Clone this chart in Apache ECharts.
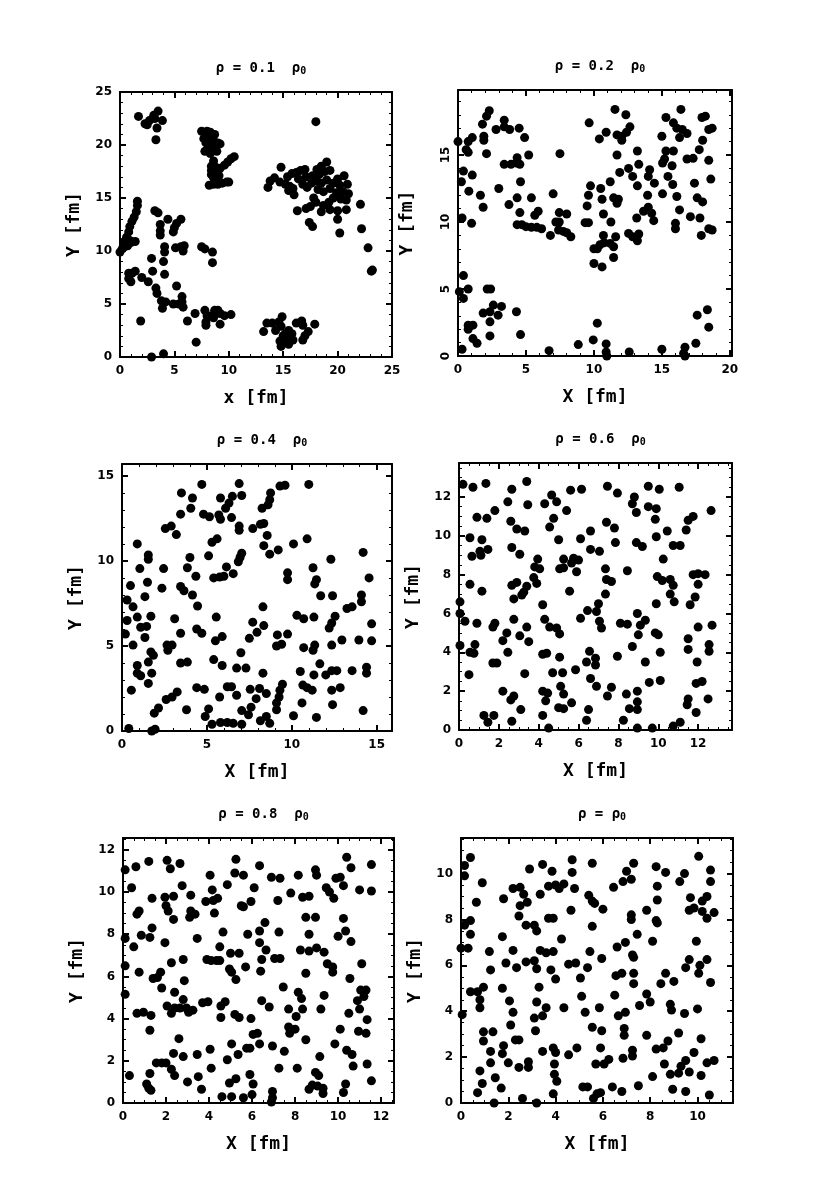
<!DOCTYPE html>
<html><head><meta charset="utf-8">
<style>html,body{margin:0;padding:0;background:#fff}#c{width:830px;height:1199px}</style>
<script src="https://cdn.jsdelivr.net/npm/echarts@6/dist/echarts.min.js"></script>
</head><body><div id="c"></div>
<script>
const points1=[[1.7,22.7],[2.3,22.0],[2.7,22.3],[3.1,22.8],[3.5,23.2],[3.9,22.3],[3.4,21.6],[3.3,20.5],[2.5,21.9],[3.2,22.5],
[7.5,21.3],[8.0,20.8],[8.3,21.2],[8.7,21.0],[7.9,20.2],[8.3,20.4],[8.7,20.3],[9.0,20.2],[9.2,20.1],[8.1,19.7],[8.5,19.6],[8.9,19.4],[7.8,19.4],[8.3,19.2],[8.7,19.9],[8.0,21.3],[8.4,20.8],[7.7,20.6],
[8.4,17.6],[8.8,17.9],[9.2,17.8],[9.6,18.1],[9.9,18.4],[10.2,18.7],[10.5,18.9],[8.6,18.5],[8.4,17.2],[8.6,16.9],[8.2,16.2],[8.6,16.3],[9.0,16.3],[9.4,16.4],[9.8,16.5],[10.0,16.5],[8.7,17.4],[9.1,17.1],[8.4,18.0],
[14.8,17.9],[13.6,16.0],[13.8,16.6],[14.2,16.9],[14.7,16.5],[15.2,16.3],[15.6,16.1],[15.9,15.9],[16.0,15.3],[15.5,15.7],[15.4,17.0],[15.8,17.3],[16.2,17.4],[16.6,17.6],[17.0,17.7],[16.4,16.8],[16.8,16.3],[17.2,16.0],[17.6,16.4],[17.1,17.0],[17.7,17.1],[18.1,17.7],[18.5,18.0],[19.0,18.4],[18.3,17.2],[18.8,17.5],[19.3,17.6],[18.0,16.6],[18.5,16.4],[19.0,16.7],[18.2,15.8],[18.7,15.6],[19.3,15.9],[19.6,16.4],[20.0,16.8],[20.6,17.1],[20.2,16.2],[20.9,16.3],[19.9,15.5],[20.5,15.6],[21.0,15.4],[20.3,14.9],[20.8,14.8],[19.6,15.0],[19.2,14.6],[18.7,14.3],[18.0,14.6],[17.5,14.2],[17.8,15.0],[16.3,13.8],[17.1,14.0],[18.5,13.7],[19.3,13.9],[20.0,13.8],[20.8,13.9],[20.0,13.0],[17.4,12.7],[17.7,12.3],[20.2,11.7],[22.1,14.4],[22.2,12.1],[22.8,10.3],[23.2,8.2],[23.1,8.1],[18.0,22.2],
[0,9.9],[0.2,10.2],[0.4,10.4],[0.7,10.5],[1.0,10.8],[1.4,10.9],[0.4,10.9],[0.6,11.3],[0.8,11.8],[0.9,12.3],[1.1,12.8],[1.3,13.2],[1.5,13.7],[1.6,14.3],[1.6,14.7],[0.9,11.0],
[3.2,13.8],[3.5,13.6],[4.4,13.0],[5.6,13.0],[5.2,12.6],[5.0,12.2],[4.9,11.8],[3.7,12.5],[3.7,11.9],[3.7,11.5],[4.1,10.4],[4.1,9.9],[5.1,10.3],[5.6,10.4],[5.9,10.5],[5.8,10.0],[4.0,9.0],[2.9,9.3],[3.0,8.1],[4.1,7.8],
[7.5,10.4],[7.8,10.2],[8.5,9.9],[8.5,8.9],[0.8,7.9],[1.1,7.9],[1.4,8.1],[0.8,7.4],[1.0,7.1],[2.0,7.5],[2.6,7.1],[3.3,6.5],[3.4,6.0],[3.8,5.3],[3.9,4.6],[4.2,5.2],[4.9,5.0],[5.2,6.7],[5.4,5.0],[5.7,5.7],[5.7,5.2],[5.8,4.7],[1.9,3.4],
[6.2,3.4],[6.9,4.1],[7.8,4.4],[8.0,3.9],[7.9,3.3],[7.9,3.0],[8.4,3.9],[8.7,4.4],[9.0,4.4],[9.2,4.1],[9.6,3.9],[10.2,4.0],[9.2,3.1],[8.6,3.7],[7.0,1.4],[2.9,0.0],[4.0,0.3],
[13.2,2.4],[13.5,3.2],[14.0,3.2],[14.3,2.5],[14.6,3.3],[14.9,3.8],[14.8,2.9],[15.5,2.5],[15.0,2.0],[14.7,1.5],[14.8,1.0],[15.1,1.4],[15.4,1.8],[15.8,2.2],[15.5,1.2],[16.2,3.2],[16.7,3.4],[16.8,3.0],[17.3,2.4],[17.0,2.0],[16.8,1.6],[17.9,3.1],[15.9,1.6],[15.2,2.2]];
const points2=[[2.3,18.3],[2.1,17.9],[1.8,17.3],[1.9,16.4],[1.9,16.1],[1.05,16.3],[.75,16],[0,16],[.6,15.4],[.75,15.2],[2.1,15.1],[2.8,16.9],[3.4,17.6],[3.4,17.1],[3.8,16.9],[4.5,17],[4.9,16.3],[5.2,15],[4.35,14.8],[4.3,14.4],[3.9,14.3],[3.4,14.3],[4.55,14.3],
[.4,13.8],[1.05,13.5],[.25,13],[.8,12.3],[1.65,12],[1.85,11.1],[3,12.5],[4.6,13],[4.35,11.8],[5.4,11.8],[3.75,11.3],[4.55,10.7],[.3,10.3],[1,9.9],[4.35,9.8],[4.7,9.8],[5,9.65],[5.4,9.6],[5.8,9.6],[6.15,9.5],[5.65,10.5],[5.9,10.8],
[7,12.1],[7.5,15.1],[7.45,10.7],[8,10.6],[7.2,10],[7.45,10],[6.8,9],[7.4,9.4],[7.75,9.3],[8,9.2],[8.3,8.9],[9.35,9.95],[9.6,9.95],[9.5,11.2],[9.6,12],[9.75,12.7],[9.65,17.4],[10.5,12.5],[10.6,11.7],[10.7,10.6],[11.25,10],[10.7,9],[11.6,8.9],[10,8],[10.25,8],[10.45,8.3],[10.75,8.45],[11.2,8.4],[11.45,8.15],[11.45,7.35],[10,6.9],[10.6,6.65],[11.2,13],[11.45,11.8],[11.8,11.7],[11.7,11.4],[11.9,13.7],[12.55,14],[12.85,13.4],[13.3,14.3],[13.2,12.7],[13.15,10.3],[13.65,10.8],[14,11.1],[14.25,10.65],[14.4,10.1],[13.95,12],[14.1,13.9],[14,13.4],[14.45,12.9],[15.05,12.1],[15.05,14.4],[15.2,14.7],[15.3,15.3],[15.85,15.3],[15.75,14.2],[15.45,13.4],[15.8,12.8],[16.1,11.9],[16.3,10.9],[16,9.9],[16,9.5],[17.1,10.4],[17.8,10.3],[17.4,12.9],[17.6,11.8],[18,11.5],[17.9,9],[18.45,9.5],[18.7,9.4],[18.6,13.2],[18.45,14.6],[16.85,14.7],[17.3,14.75],[17.75,15.4],[18,16.1],[18.45,16.9],[18.7,17],[17.95,17.8],[18.2,17.9],[16.4,18.4],[15.3,17.8],[15.85,17.4],[16.1,17],[16.5,16.9],[16.85,16.6],[16.3,16.3],[15,16.4],[11.55,18.4],[12.35,18],[12.65,17.1],[12.4,16.7],[12.05,16.4],[12.05,16.1],[11.7,16.5],[10.9,16.7],[10.4,16.2],[11.7,15],[13.2,15.3],[12.55,9.15],[12.85,8.9],[13.2,8.6],[13.3,9.1],
[.4,6],[.75,5],[.1,4.8],[.4,4.3],[2.15,5],[2.4,5],[2.6,3.8],[3.2,3.7],[1.85,3.2],[2.35,3.3],[2.95,3.05],[2.35,2.55],[4.3,3.3],[.75,2.3],[1.1,2.3],[.75,2],[2.35,1.5],[4.6,1.6],[1.1,1.3],[1.4,.95],[.3,.5],[6.7,.4],[8.85,.85],[9.95,1.2],[10.25,2.45],[10.9,.9],[10.9,.3],[10.95,0],[12.6,.3],[15,.5],[16.7,.65],[16.6,.2],[16.7,0],[17.5,.95],[17.6,3.05],[18.35,3.45],[18.45,2.15]];
const points3=[[4.7,14.5],[6.9,14.55],[3.5,14],[4.15,13.7],[4.05,13.1],[3.45,12.75],[4.8,12.75],[5.15,12.6],[5.7,12.7],[5.8,12.45],[5.8,13.7],[6.1,13.1],[6.3,13.4],[6.5,13.8],[7.05,13.85],[6.45,12.55],[6.9,12.05],[6.9,11.8],[7.7,11.9],[8.15,12.15],[8.35,12.2],[8.55,11.5],[8.35,10.9],[8.7,10.4],[9.2,10.65],[10.1,11],[10.9,11.3],[11,14.5],[9.3,14.4],[9.6,14.45],[8.75,14],[8.7,13.6],[8.6,13.3],[8.25,13.1],[2.55,11.9],[2.9,12.05],[3.2,11.55],[.9,11],[1.55,10.35],[1.55,10.1],[4,10.2],[5.1,10.3],[5.3,11.1],[5.6,11.3],[7.05,10.45],[6.95,10.2],[6.85,9.95],[1.05,9.55],[2.45,9.55],[3.85,9.6],[6.15,9.65],[6.55,9.25],[4.35,9.1],[5.4,9],[5.75,9.05],[6,9.1],[9.75,9.3],[9.75,8.9],[11.25,9.6],[11.45,8.9],[11.35,8.65],[12.3,10.1],[14.2,10.5],[14.55,9],[1.5,8.75],[.5,8.55],[2.35,8.4],[3.45,8.5],[3.65,8.25],[4.15,8],[1.35,7.9],[11.7,7.95],[12.4,7.95],[14.1,8],[14.1,7.6],[.3,7.7],[.65,7.3],[4.45,7.35],[8.3,7.3],[13.25,7.2],[13.55,7.3],[.9,6.7],[1.7,6.75],[3.1,6.6],[5.55,6.7],[.3,6.5],[10.3,6.8],[10.7,6.6],[11.3,6.7],[12.55,6.75],[12.35,6.35],[7.7,6.4],[8.35,6.2],[7.95,5.8],[7.5,5.45],[12.2,6.05],[1.1,6.1],[1.45,6.15],[14.7,6.3],[.2,5.7],[1.35,5.5],[3.45,5.75],[4.4,6],[4.7,5.75],[5.9,5.55],[5.5,5.3],[9.15,5.65],[9.75,5.7],[.65,5.05],[2.65,5.05],[2.95,5.05],[2.7,4.75],[9.1,5],[9.4,5.1],[11.35,5.05],[11.25,4.75],[10.7,4.9],[12.35,5.05],[12.95,5.35],[13.95,5.35],[14.7,5.3],
[1.7,4.65],[1.85,4.45],[1.55,4.05],[7,4.6],[5.4,4.2],[5.9,3.85],[3.45,4],[3.85,4.05],[.9,3.85],[.9,3.4],[1.1,3.25],[1.75,3.4],[6.75,3.7],[7.3,3.7],[8.3,3.4],[10.5,3.5],[11.65,3.95],[11.3,3.3],[12,3.3],[12.35,3.55],[12.65,3.55],[13.55,3.55],[14.4,3.75],[14.4,3.4],[1.55,2.8],[.55,2.4],[4.4,2.55],[4.85,2.45],[6.2,2.6],[6.45,2.6],[5.75,2],[6.75,2.1],[7.55,2.45],[8.1,2.5],[8.5,2.2],[7.9,1.9],[9.45,2.75],[9.3,2.4],[9.25,2],[9.1,1.65],[9.1,1.25],[10.65,2.7],[10.9,2.55],[11.2,2.4],[12.35,2.4],[12.85,2.55],[10.6,1.65],[12.4,1.55],[3.25,2.3],[2.95,2],[2.6,1.85],[2.15,1.35],[1.9,1.05],[3.8,1.25],[5.1,1.3],[4.9,.85],[7.05,1.2],[7.6,1.4],[7.45,.95],[11.45,.8],[10.1,.9],[14.2,1.2],[8.15,.6],[8.5,.85],[8.7,.45],[5.3,.4],[5.8,.5],[6.2,.5],[6.55,.45],[7.05,.4],[.4,.15],[1.95,.1],[1.75,0]];
const points4=[[.2,12.65],[.7,12.5],[1.35,12.7],[2.65,12.4],[3.4,12.8],[4.65,12.1],[4.9,11.75],[5.6,12.35],[6.15,12.4],[7.45,12.55],[7.95,12.2],[9.5,12.55],[10.05,12.4],[11.05,12.5],[8.8,12],[8.7,11.65],[8.9,11.2],[9.5,11.5],[9.9,11.4],[12.65,11.3],[11.75,11],[11.5,10.8],[9.85,10.85],[11.4,10.3],[10.45,10.25],[9.9,9.95],
[2.45,11.75],[3.45,11.6],[4.3,11.65],[5.4,11.3],[1.8,11.3],[1.4,10.9],[.9,10.95],[2.6,10.75],[4.75,10.9],[4.55,10.45],[2.9,10.35],[3.3,10.25],[7.4,10.7],[7.8,10.4],[6.6,10.25],[.55,9.9],[1.15,9.8],[5,9.8],[6.1,9.85],[7.85,9.65],[8.9,9.65],[9.2,9.45],[10.75,9.5],[11.1,9.5],[10.25,8.8],[.65,8.95],[1.05,9.2],[1.1,9],[1.45,9.3],[2.65,9.4],[3.05,9.05],[6.6,9.3],[7.05,9.2],[5.25,8.8],[5.75,8.85],[6,8.75],[5.65,8.6],[3.95,8.8],[3.8,8.4],[4.05,8.3],[5.05,8.3],[5.25,8.35],[5.9,8.15],[7.35,8.3],[8.45,8.2],[9.95,7.9],[10.2,7.7],[10.6,7.75],[10.75,7.45],[10.6,7],[11.75,8],[12,8.05],[12.35,8],[12,7.5],
[3.75,7.85],[3.9,7.55],[7.4,7.75],[7.65,7.65],[.55,7.5],[1.15,7.15],[2.65,7.45],[2.9,7.6],[3.4,7.4],[3.25,7.1],[3.15,6.95],[5.55,7.15],[7.35,7],[2.75,6.75],[4.2,6.45],[9.9,6.5],[10.8,6.6],[11.85,6.85],[11.6,6.45],[7,6.5],[6.9,6.1],[6.45,6.15],[.05,6.6],[.05,6],
[.3,5.6],[.9,5.5],[1.8,5.5],[1.7,5.3],[2.75,5.7],[3.4,5.3],[4.3,5.7],[4.55,5.3],[4.9,5.25],[5.05,4.95],[6.1,5.75],[7.05,5.6],[7.15,5.25],[8.1,5.5],[8.45,5.45],[8.95,6],[9.35,5.65],[9.1,5.4],[9,4.9],[9.85,5],[10,4.9],[12,5.3],[12.7,5.4],[2.4,5],[2.2,4.6],[3.05,4.85],[3.5,4.55],[11.5,4.7],[11.5,4.15],[12.55,4.4],[12.55,4.05],[.05,4.35],[.55,4],[.8,4.4],[.75,3.95],[2.45,4],[4.2,3.9],[4.4,3.95],[5.05,3.75],[6.55,4.05],[6.85,3.7],[6.4,3.5],[6.85,3.35],[7.95,3.8],[8.7,4.3],[10.1,4],[9.35,3.5],[11.95,3.5],[1.7,3.45],[1.9,3.45],
[.5,2.85],[3.3,2.9],[4.7,2.95],[5.2,2.95],[5.85,3.1],[6.6,2.65],[6.9,2.25],[7.65,2.2],[9.55,2.45],[10.1,2.55],[11.9,2.4],[12.2,2.5],[2.2,2],[5.1,2.25],[5.25,1.85],[4.2,2],[4.45,1.9],[8.95,2],[8.4,1.85],[7.45,1.75],[2.75,1.75],[2.6,1.55],[4.35,1.5],[5.65,1.4],[8.95,1.45],[11.5,1.6],[11.45,1.3],[12.5,1.6],[5,1.15],[5.25,1.1],[3.1,1.05],[6.5,1.05],[8.55,1.1],[8.95,1.05],[11.9,.9],[1.25,.75],[1.75,.75],[1.45,.4],[2.65,.45],[4.2,.75],[6.4,.5],[8.25,.5],[4.5,.1],[8.95,.1],[9.7,.1],[10.75,.2],[11.1,.4]];
const points5=[[.1,11.05],[.6,11.2],[1.2,11.45],[2.05,11.5],[2.2,11.1],[2.65,11.35],[5.25,11.55],[5.2,10.9],[5.6,10.8],[6.35,11.25],[8.15,10.8],[8.95,11.05],[9,10.8],[10.4,11.65],[10.6,11.15],[11.55,11.3],[4.05,10.8],[6.9,10.7],[7.3,10.65],[9.9,10.65],[10.1,10.7],[10.25,10.3],[.4,10.2],[2.75,10.3],[4.15,10.1],[4.85,10.35],[6.1,10.2],[9.45,10.2],[9.6,10],[11,10.1],[11.55,10.05],[7.8,9.95],[3.15,9.85],[1.35,9.7],[1.95,9.75],[2.35,9.8],[8.35,9.75],[8.65,9.8],[9.8,9.7],[3.85,9.55],[4.2,9.6],[4.4,9.7],[5.95,9.55],[7.2,9.6],[2,9.35],[2.1,9.1],[5.5,9.35],[5.6,9.3],[.75,9.1],[.65,8.95],[4.25,9],[3.15,9.1],[3.35,8.95],[3.1,8.8],[2.35,8.7],[8.5,8.8],[8.95,8.8],[10.25,8.75],[6.6,8.55],[1.35,8.3],[6.35,8.15],[7.25,8.1],[4.65,8.1],[5.8,8],[8.65,8],[10.35,8.15],[10,7.9],[.85,7.95],[1.25,7.85],[.1,7.8],[3.45,7.8],[1.95,7.6],[6.35,7.6],[10.6,7.65],[.5,7.4],[4.5,7.4],[6.65,7.25],[8.25,7.25],[8.65,7.2],[9,7.35],[9.35,7.15],[5,7.1],[5.4,7.1],[2.8,6.8],[3.9,6.8],[4.1,6.75],[4.35,6.75],[4.5,6.75],[6.45,6.8],[7.05,6.85],[7.3,6.85],[.1,6.5],[2.25,6.65],[5.7,6.45],[4.95,6.35],[5.05,6.2],[9.5,6.6],[9.75,6.45],[9.75,6.2],[11.1,6.6],[.75,6.2],[1.75,6.2],[6.4,6.25],[8.5,6.15],[1.4,5.9],[1.6,5.95],[2.85,5.8],[5.25,5.85],[10.55,5.9],[1.8,5.45],[7.45,5.5],[.1,5.15],[2.4,5.25],[8.15,5.25],[9.35,5.1],[8.3,4.95],[11.05,5.35],[11.3,5.35],[11.2,5.05],[10.9,4.85],[2.8,4.9],[6.45,4.85],[3.7,4.75],[3.95,4.8],[4.75,4.8],[4.55,4.6],[2.05,4.6],[2.4,4.5],[2.65,4.5],[2.95,4.5],[3.25,4.4],[3.05,4.3],[2.25,4.25],[6.8,4.55],[7.7,4.45],[8.35,4.45],[9.2,4.45],[11,4.45],[.65,4.25],[.95,4.3],[1.3,4.15],[5.2,4.2],[5.4,4.05],[4.55,4.05],[5.95,4],[8.05,4.1],[10.5,4.25],[11.35,3.95],[1.25,3.45],[7.7,3.6],[8,3.5],[7.75,3.3],[10.1,3.5],[10.95,3.4],[11.3,3.3],[6.05,3.25],[6.25,3.3],[2.6,3.05],[8.5,3],[5.05,2.8],[6.35,2.8],[6.95,2.7],[9.85,2.8],[5.75,2.6],[5.9,2.6],[4.05,2.55],[2.35,2.35],[3.45,2.3],[2.8,2.2],[5.35,2.3],[7.5,2.45],[10.4,2.5],[10.65,2.3],[9.15,2.2],[4.85,2.05],[1.55,1.9],[1.8,1.9],[2,1.9],[11.35,1.85],[2.25,1.6],[4.1,1.65],[7.25,1.65],[8.1,1.65],[10.7,1.75],[2.4,1.3],[1.25,1.4],[.3,1.3],[5.9,1.35],[8.95,1.45],[9.1,1.3],[3.5,1.25],[5.25,1.15],[4.95,.95],[3,1],[11.55,1.05],[6.05,.9],[1.1,.9],[1.2,.7],[1.3,.6],[10.35,.9],[3.65,.65],[8.65,.65],[8.8,.85],[9.05,.8],[9.3,.7],[9.3,.45],[10.25,.5],[4.6,.3],[5.05,.3],[5.6,.25],[6,.4],[6.95,.55],[6.95,.25],[6.9,.05]];
const points6=[[.4,10.7],[.15,10.35],[.15,9.9],[.9,9.6],[2.9,10.2],[3.45,10.4],[3.85,10.1],[4.7,10.6],[4.7,10.05],[5.55,10.45],[7.3,10.45],[7,10.1],[6.85,9.65],[7.2,9.75],[6.45,9.4],[8.25,10.3],[8.65,10.05],[9.45,10],[9.25,9.65],[10.05,10.75],[10.55,10.15],[10.55,9.65],[2.2,9.35],[2.5,9.4],[2.65,9.1],[2.8,8.75],[2.5,8.6],[2.45,8.15],[1.8,8.9],[.65,8.75],[3.35,9.1],[3.7,9.45],[4,9.5],[4.15,9.35],[4.35,9.55],[4.8,9.35],[5.4,9.05],[5.55,8.8],[5.65,8.7],[6,8.45],[4.65,8.4],[8.3,9.45],[8.3,8.85],[9.7,8.95],[10.2,8.8],[10.4,9],[7.85,8.4],[9.65,8.4],[9.85,8.5],[10.2,8.35],[10.7,8.3],[10.4,8.05],[7.2,8.2],[7.2,8],[3.7,8.05],[3.9,8.05],[8.25,7.95],[8.3,7.85],[.4,7.95],[.15,7.75],[2.75,7.75],[3.1,7.75],[3.2,7.5],[5.55,7.7],[.4,7.35],[7.45,7.35],[1.75,7.25],[4.25,7.15],[8.1,7.05],[6.95,7],[6.6,6.8],[9.95,7.05],[0,6.75],[.3,6.75],[1.2,6.6],[2.2,6.65],[3.35,6.65],[3.6,6.55],[3.9,6.6],[5.45,6.6],[7.25,6.45],[5.95,6.3],[1.9,6.1],[2.75,6.15],[3.1,6.2],[4.55,6.05],[4.85,6.1],[7.3,6.35],[9.65,6.25],[10.4,6.25],[10.1,6],[2.35,5.9],[3.2,5.85],[3.8,5.8],[5.35,5.9],[9.5,5.9],[1.25,5.8],[6.55,5.55],[6.8,5.65],[7.3,5.65],[8.65,5.65],[10.05,5.65],[5.05,5.45],[4,5.4],[9,5.3],[8.45,5.2],[7.3,5.2],[10.55,5.25],[.95,5.05],[.4,4.85],[.7,4.85],[1.75,5],[3.3,5.05],[6.5,4.7],[5.1,4.65],[7.85,4.75],[.8,4.5],[2.05,4.45],[3.2,4.4],[8,4.4],[.8,4.15],[7.55,4.25],[8.85,4.3],[8.9,4.05],[3.6,4.15],[4.35,4.15],[5.85,4.15],[10,4.1],[2.2,3.95],[5.25,3.95],[6.95,3.95],[6.65,3.8],[9.45,3.9],[.05,3.85],[3.45,3.8],[3.1,3.7],[2.1,3.4],[5.55,3.3],[5.95,3.15],[6.9,3.25],[6.9,2.95],[.95,3.1],[1.35,3.1],[3.15,3.15],[7.85,2.95],[9.2,3.05],[10.15,2.8],[8.75,2.7],[.95,2.7],[2.3,2.75],[2.45,2.75],[1.8,2.5],[3.9,2.4],[4.9,2.4],[5.9,2.4],[3.45,2.25],[1.25,2.25],[1.75,2.15],[4,2.2],[4.55,2.1],[7.25,2.3],[7.25,2.05],[6.85,1.95],[8.25,2.35],[8.55,2.4],[9.85,2.2],[6.25,1.9],[6.05,1.7],[5.7,1.7],[9.5,1.85],[9.3,1.6],[10.4,1.75],[10.7,1.85],[1.25,1.75],[2,1.75],[2.85,1.8],[2.85,1.55],[2.45,1.55],[3.95,1.7],[8.6,1.7],[.8,1.4],[9.2,1.3],[8.85,1.25],[9.65,1.35],[10.15,1.2],[3.95,1.25],[1.45,1.1],[8.1,1.15],[4.05,.95],[.9,.85],[5.15,.7],[5.35,.7],[1.7,.65],[6.4,.7],[7.5,.75],[8.95,.6],[9.5,.5],[.7,.45],[6.8,.5],[3.9,.4],[5.9,.45],[5.75,.4],[5.6,.2],[10.5,.35],[2.6,.2],[1.4,0],[3.2,0]];

const titles=['0.1  ','0.2  ','0.4  ','0.6  ','0.8  ',''];
const xNames=['x [fm]','X [fm]','X [fm]','X [fm]','X [fm]','X [fm]'];
const yName='Y [fm]';
const xMax=[25,20.16,15.9,13.7,12.6,11.5];
const yMax=[25,19.85,15.7,13.75,12.56,11.55];
const intervals=[5,5,5,2,2,2];
const allPoints=[points1,points2,points3,points4,points5,points6];
const boxes=[[120,92,392,357],[458,90,732,356],[122,464,392,731],[459,463,732,730],[123,838,394,1103],[461,838,733,1103]];

const font='"DejaVu Sans Mono"';
const grid=[],xAxis=[],yAxis=[],series=[],title=[];
boxes.forEach((b,i)=>{
  grid.push({left:b[0],top:b[1],width:b[2]-b[0],height:b[3]-b[1],containLabel:false,show:false});
  const minorN=intervals[i]===5?5:4;
  const common=()=>({type:'value',gridIndex:i,min:0,interval:intervals[i],splitLine:{show:false},z:10,
    axisLine:{show:true,onZero:false,lineStyle:{color:'#000',width:2}},
    axisTick:{show:true,inside:true,length:6,lineStyle:{color:'#000',width:2}},
    minorTick:{show:true,splitNumber:minorN,length:3,lineStyle:{color:'#000',width:1}}});
  const lab=()=>({show:true,color:'#000',fontFamily:'"DejaVu Sans"',fontWeight:'bold',fontSize:12,margin:8});
  const nameStyle={color:'#000',fontFamily:font,fontWeight:'bold',fontSize:18};
  xAxis.push({...common(),position:'bottom',max:xMax[i],name:xNames[i],nameLocation:'middle',nameGap:32,
    nameTextStyle:nameStyle,axisLabel:{...lab(),showMaxLabel:xMax[i]===25}});
  xAxis.push({...common(),position:'top',max:xMax[i],axisLabel:{show:false}});
  yAxis.push({...common(),position:'left',max:yMax[i],name:yName,nameLocation:'middle',nameGap:i===1?42:37,
    nameTextStyle:nameStyle,axisLabel:{...lab(),rotate:i===1?90:0,margin:i===1?6:8,showMaxLabel:yMax[i]===25}});
  yAxis.push({...common(),position:'right',max:yMax[i],axisLabel:{show:false}});
  series.push({type:'scatter',xAxisIndex:2*i,yAxisIndex:2*i,data:allPoints[i],symbol:'circle',symbolSize:9,clip:false,
    itemStyle:{color:'#000',opacity:1},silent:true});
  title.push({left:(b[0]+b[2])/2,top:b[1]-37,textAlign:'center',
    text:'{m|\u03C1 = '+titles[i]+'\u03C1}{s|0}',
    textStyle:{rich:{m:{fontFamily:font,fontWeight:'bold',fontSize:14,color:'#000'},
      s:{fontFamily:font,fontWeight:'bold',fontSize:10,color:'#000',verticalAlign:'bottom',padding:[6,0,0,0]}}}});
});
const chart=echarts.init(document.getElementById('c'),null,{renderer:'canvas'});
chart.setOption({animation:false,backgroundColor:'#fff',title,grid,xAxis,yAxis,series,tooltip:{show:false}});
</script></body></html>
